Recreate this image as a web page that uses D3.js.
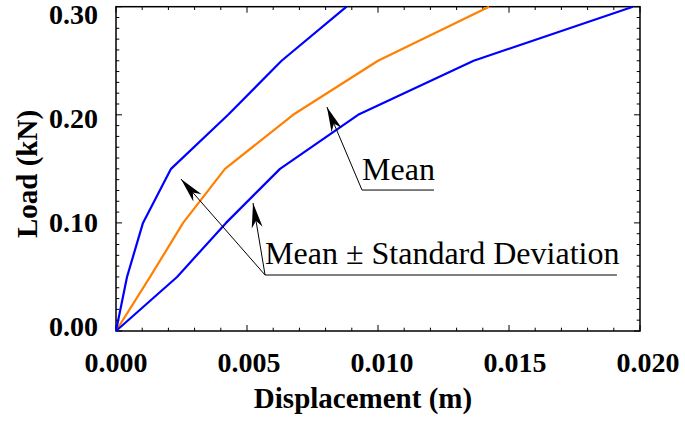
<!DOCTYPE html>
<html>
<head>
<meta charset="utf-8">
<script src="https://cdn.jsdelivr.net/npm/d3@7"></script>
<style>
  body { margin: 0; background: #fff; }
  svg { display: block; }
  .tick-label { font-family: "Liberation Serif", "Times New Roman", serif; font-weight: bold; font-size: 28px; }
  .axis-title { font-family: "Liberation Serif", "Times New Roman", serif; font-weight: bold; font-size: 29px; }
  .note { font-family: "Liberation Serif", "Times New Roman", serif; font-size: 32px; }
</style>
</head>
<body>
<div id="chart"></div>
<script>
// load levels (kN) and displacements (m)
let loads = [0, 0.05, 0.10, 0.15, 0.20, 0.25, 0.30];
let meanDisp = [0, 0.0013, 0.00256, 0.00416, 0.00676, 0.0100, 0.01424];
let upperDisp = [0, 0.00042, 0.00103, 0.0021, 0.00428, 0.00632, 0.0088];
let lowerDisp = [0, 0.00233, 0.0042, 0.00626, 0.00924, 0.01365, 0.01973];

let xTicks = [0, 0.005, 0.010, 0.015, 0.020];
let yTicks = [0, 0.10, 0.20, 0.30];

let width = 685;
let height = 424;
let plot = { left: 116, right: 640, top: 6.7, bottom: 331 };

let x = d3.scaleLinear().domain([0, 0.02]).range([plot.left, plot.right]);
let y = d3.scaleLinear().domain([0, 0.30]).range([plot.bottom, plot.top]);
// tick labels sit a little off the ticks in the original
let xLab = d3.scaleLinear().domain([0, 0.02]).range([116, 648]);
let yLab = d3.scaleLinear().domain([0, 0.30]).range([326, 14]);

let svg = d3.select('#chart').append('svg')
    .attr('width', width)
    .attr('height', height);

// ticks on all four sides, pointing inward
let minorX = d3.range(0, 0.0201, 0.001);
let minorY = d3.range(0, 0.301, 0.01);
let ticks = svg.append('g').attr('stroke', '#000').attr('stroke-width', 1);
minorX.forEach(function(v, i) {
    let len = (i % 5 === 0) ? 6 : 3.3;
    ticks.append('line').attr('x1', x(v)).attr('x2', x(v)).attr('y1', plot.bottom).attr('y2', plot.bottom - len);
    ticks.append('line').attr('x1', x(v)).attr('x2', x(v)).attr('y1', plot.top).attr('y2', plot.top + len);
});
minorY.forEach(function(v, i) {
    let len = (i % 10 === 0) ? 6 : 3.3;
    ticks.append('line').attr('y1', y(v)).attr('y2', y(v)).attr('x1', plot.left).attr('x2', plot.left + len);
    ticks.append('line').attr('y1', y(v)).attr('y2', y(v)).attr('x1', plot.right).attr('x2', plot.right - len);
});

svg.append('rect')
    .attr('x', plot.left).attr('y', plot.top)
    .attr('width', plot.right - plot.left).attr('height', plot.bottom - plot.top)
    .attr('fill', 'none').attr('stroke', '#000').attr('stroke-width', 1.5);

svg.selectAll('.xl').data(xTicks).enter().append('text')
    .attr('class', 'tick-label')
    .attr('x', function(d) { return xLab(d); })
    .attr('y', 372)
    .attr('text-anchor', 'middle')
    .text(function(d) { return d3.format('.3f')(d); });

svg.selectAll('.yl').data(yTicks).enter().append('text')
    .attr('class', 'tick-label')
    .attr('x', 98)
    .attr('y', function(d) { return yLab(d); })
    .attr('dy', '0.35em')
    .attr('text-anchor', 'end')
    .text(function(d) { return d3.format('.2f')(d); });

svg.append('text').attr('class', 'axis-title')
    .attr('x', 363).attr('y', 408)
    .attr('text-anchor', 'middle')
    .text('Displacement (m)');

svg.append('text').attr('class', 'axis-title')
    .attr('transform', 'translate(37,174) rotate(-90)')
    .attr('text-anchor', 'middle')
    .text('Load (kN)');

let line = d3.line()
    .x(function(d) { return x(d[0]); })
    .y(function(d) { return y(d[1]); });

function curve(disp, color) {
    svg.append('path')
        .datum(disp.map(function(d, i) { return [d, loads[i]]; }))
        .attr('d', line)
        .attr('fill', 'none')
        .attr('stroke', color)
        .attr('stroke-width', 2.2)
        .attr('stroke-linejoin', 'round');
}
curve(meanDisp, '#ff8000');
curve(upperDisp, '#0000ff');
curve(lowerDisp, '#0000ff');

// annotations
function arrow(x0, y0, x1, y1) {
    let px0 = x(x0), py0 = y(y0), px1 = x(x1), py1 = y(y1);
    svg.append('line')
        .attr('x1', px0).attr('y1', py0).attr('x2', px1).attr('y2', py1)
        .attr('stroke', '#000').attr('stroke-width', 1);
    let a = Math.atan2(py1 - py0, px1 - px0);
    let L = 25, w = 5.5, n = 18;
    let pts = [
        [px1, py1],
        [px1 - L * Math.cos(a) + w * Math.sin(a), py1 - L * Math.sin(a) - w * Math.cos(a)],
        [px1 - n * Math.cos(a), py1 - n * Math.sin(a)],
        [px1 - L * Math.cos(a) - w * Math.sin(a), py1 - L * Math.sin(a) + w * Math.cos(a)]
    ];
    svg.append('path').attr('d', 'M' + pts.join('L') + 'Z').attr('fill', '#000');
}

// "Mean"
arrow(0.00939, 0.1304, 0.00805, 0.2072);
svg.append('line')
    .attr('x1', x(0.00939)).attr('x2', x(0.01214))
    .attr('y1', y(0.1304)).attr('y2', y(0.1304))
    .attr('stroke', '#000').attr('stroke-width', 1);
svg.append('text').attr('class', 'note')
    .attr('x', x(0.00939)).attr('y', y(0.1304) - 10)
    .text('Mean');

// "Mean ± Standard Deviation"
arrow(0.00569, 0.0518, 0.00523, 0.1184);
arrow(0.00569, 0.0518, 0.00248, 0.1406);
svg.append('line')
    .attr('x1', x(0.00569)).attr('x2', x(0.01912))
    .attr('y1', y(0.0518)).attr('y2', y(0.0518))
    .attr('stroke', '#000').attr('stroke-width', 1);
svg.append('text').attr('class', 'note')
    .attr('x', x(0.00569)).attr('y', y(0.0518) - 11)
    .text('Mean \u00b1 Standard Deviation');
</script>
</body>
</html>
